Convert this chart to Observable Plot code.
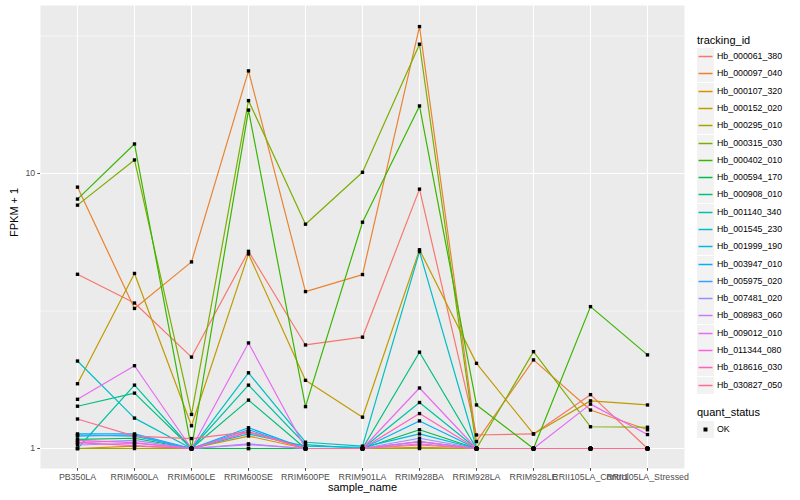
<!DOCTYPE html>
<html>
<head>
<meta charset="utf-8">
<script src="https://cdn.jsdelivr.net/npm/d3@7"></script>
<script src="https://cdn.jsdelivr.net/npm/@observablehq/plot@0.6"></script>
<style>
  body { margin: 0; background: white; font-family: "Liberation Sans", Arial, sans-serif; }
  #wrap { position: relative; width: 800px; height: 500px; }
  #chart { position: absolute; left: 0; top: 0; }
  #legend { position: absolute; left: 697px; top: 0; width: 103px; height: 500px; }
  .ltitle { position: absolute; left: 0; font-size: 11px; color: #000; line-height: 11px; white-space: nowrap; }
  .lrow { position: absolute; left: 0; height: 17px; width: 103px; }
  .lkey { position: absolute; left: 0; top: 0; width: 17px; height: 17px; background: #F2F2F2; }
  .lkey svg { display: block; }
  .llab { position: absolute; left: 20px; top: 0; font-size: 8.8px; line-height: 17px; color: #000; white-space: nowrap; }
</style>
</head>
<body>
<div id="wrap"><div id="chart"></div><div id="legend"></div></div>
<script>
const samples = ["PB350LA", "RRIM600LA", "RRIM600LE", "RRIM600SE", "RRIM600PE", "RRIM901LA",
  "RRIM928BA", "RRIM928LA", "RRIM928LE", "RRII105LA_Control", "RRII105LA_Stressed"];

const trackingIds = ["Hb_000061_380", "Hb_000097_040", "Hb_000107_320", "Hb_000152_020", "Hb_000295_010",
  "Hb_000315_030", "Hb_000402_010", "Hb_000594_170", "Hb_000908_010", "Hb_001140_340",
  "Hb_001545_230", "Hb_001999_190", "Hb_003947_010", "Hb_005975_020", "Hb_007481_020",
  "Hb_008983_060", "Hb_009012_010", "Hb_011344_080", "Hb_018616_030", "Hb_030827_050"];

const colors = ["#F8766D", "#EA8331", "#D89000", "#C09B00", "#A3A500", "#7CAE00", "#39B600", "#00BB4E",
  "#00BF7D", "#00C1A3", "#00BFC4", "#00BAE0", "#00B0F6", "#35A2FF", "#9590FF", "#C77CFF",
  "#E76BF3", "#FA62DB", "#FF62BC", "#FF6C91"];

// FPKM + 1 per sample, in the order of `samples`
const v000061_380 = [4.30, 3.38, 2.15, 5.21, 2.38, 2.54, 8.77, 1.12, 1.13, 1.57, 1.00];
const v000097_040 = [8.92, 3.23, 4.77, 23.6, 3.72, 4.29, 34.2, 1.06, 2.10, 1.38, 1.17];
const v000107_320 = [1.00, 1.02, 1.00, 1.11, 1.00, 1.00, 1.01, 1.00, 1.00, 1.00, 1.00];
const v000152_020 = [1.72, 4.33, 1.21, 5.10, 1.77, 1.30, 5.28, 2.04, 1.13, 1.49, 1.44];
const v000295_010 = [1.00, 1.00, 1.00, 1.00, 1.00, 1.00, 1.00, 1.00, 1.00, 1.00, 1.00];
const v000315_030 = [7.67, 11.2, 1.33, 18.4, 6.54, 10.1, 29.5, 1.00, 2.25, 1.20, 1.195];
const v000402_010 = [8.07, 12.8, 1.00, 17.0, 1.42, 6.65, 17.6, 1.44, 1.00, 3.28, 2.19];
const v000594_170 = [1.08, 1.09, 1.00, 1.00, 1.00, 1.00, 1.17, 1.00, 1.00, 1.00, 1.00];
const v000908_010 = [1.425, 1.59, 1.00, 1.50, 1.00, 1.00, 2.24, 1.00, 1.00, 1.00, 1.00];
const v001140_340 = [1.00, 1.70, 1.00, 1.70, 1.034, 1.00, 1.47, 1.00, 1.00, 1.00, 1.00];
const v001545_230 = [2.08, 1.29, 1.00, 1.885, 1.054, 1.02, 5.20, 1.00, 1.00, 1.00, 1.00];
const v001999_190 = [1.12, 1.11, 1.00, 1.13, 1.02, 1.01, 1.13, 1.00, 1.00, 1.00, 1.00];
const v003947_010 = [1.13, 1.13, 1.00, 1.19, 1.00, 1.00, 1.26, 1.00, 1.00, 1.00, 1.00];
const v005975_020 = [1.11, 1.12, 1.00, 1.17, 1.00, 1.00, 1.06, 1.00, 1.00, 1.00, 1.00];
const v007481_020 = [1.05, 1.07, 1.00, 1.034, 1.00, 1.00, 1.09, 1.00, 1.00, 1.00, 1.00];
const v008983_060 = [1.03, 1.045, 1.00, 1.04, 1.00, 1.00, 1.04, 1.00, 1.00, 1.00, 1.00];
const v009012_010 = [1.51, 2.00, 1.00, 2.42, 1.00, 1.00, 1.66, 1.00, 1.00, 1.45, 1.124];
const v011344_080 = [1.07, 1.05, 1.00, 1.15, 1.00, 1.00, 1.06, 1.00, 1.00, 1.00, 1.00];
const v018616_030 = [1.05, 1.025, 1.00, 1.15, 1.00, 1.00, 1.34, 1.00, 1.00, 1.00, 1.00];
const v030827_050 = [1.28, 1.11, 1.087, 1.15, 1.00, 1.00, 1.03, 1.00, 1.00, 1.00, 1.00];

const seriesValues = [v000061_380, v000097_040, v000107_320, v000152_020, v000295_010,
  v000315_030, v000402_010, v000594_170, v000908_010, v001140_340, v001545_230, v001999_190,
  v003947_010, v005975_020, v007481_020, v008983_060, v009012_010, v011344_080, v018616_030, v030827_050];

const majorTicks = [1, 10];
const minorTicks = [Math.sqrt(10), Math.sqrt(1000)];
const statusLevels = ["OK"];

const rows = [];
trackingIds.forEach((id, i) => {
  seriesValues[i].forEach((v, j) => rows.push({id, sample: samples[j], value: v, status: "OK"}));
});

const chart = Plot.plot({
  width: 690,
  height: 500,
  marginLeft: 40,
  marginRight: 6,
  marginTop: 5,
  marginBottom: 32,
  style: {fontFamily: "'Liberation Sans', Arial, sans-serif", fontSize: "8.8px", background: "white", overflow: "visible"},
  x: {type: "point", domain: samples, padding: 0.6},
  y: {type: "log", domain: [0.846, 40.8]},
  color: {domain: trackingIds, range: colors},
  marks: [
    Plot.frame({fill: "#EBEBEB", stroke: "none"}),
    Plot.ruleY(minorTicks, {stroke: "white", strokeWidth: 0.55}),
    Plot.ruleY(majorTicks, {stroke: "white", strokeWidth: 1.1}),
    Plot.ruleX(samples, {stroke: "white", strokeWidth: 1.1}),
    Plot.lineY(rows, {x: "sample", y: "value", z: "id", stroke: "id", strokeWidth: 1.2}),
    Plot.dot(rows, {x: "sample", y: "value", symbol: "square", r: 1.9, fill: "black", stroke: "none"}),
    Plot.axisX({tickSize: 2.75, tickPadding: 2.5, color: "#4D4D4D", label: null, fontSize: 8.8}),
    Plot.axisY({ticks: majorTicks, tickFormat: d => String(d), tickSize: 2.75, tickPadding: 2.5, color: "#4D4D4D", label: null, fontSize: 8.8}),
    Plot.text(["sample_name"], {frameAnchor: "bottom", dy: 22, fontSize: 11, fill: "black"}),
    Plot.text(["FPKM + 1"], {frameAnchor: "left", rotate: -90, dx: -26, fontSize: 11, fill: "black"})
  ]
});
document.getElementById("chart").appendChild(chart);

// Legend
const legend = d3.select("#legend");
legend.append("div").attr("class", "ltitle").style("top", "34.5px").text("tracking_id");
trackingIds.forEach((id, i) => {
  const row = legend.append("div").attr("class", "lrow").style("top", Math.round(48.2 + i * 17.28) + "px");
  const key = row.append("div").attr("class", "lkey");
  key.append("svg").attr("width", 17).attr("height", 17)
    .append("line").attr("x1", 1.5).attr("x2", 15.5).attr("y1", 8.5).attr("y2", 8.5)
    .attr("stroke", colors[i]).attr("stroke-width", 1.5);
  row.append("div").attr("class", "llab").text(id);
});
legend.append("div").attr("class", "ltitle").style("top", "407px").text("quant_status");
statusLevels.forEach((s, i) => {
  const row = legend.append("div").attr("class", "lrow").style("top", Math.round(420.8 + i * 17.28) + "px");
  const key = row.append("div").attr("class", "lkey");
  key.append("svg").attr("width", 17).attr("height", 17)
    .append("rect").attr("x", 6.5).attr("y", 6.5).attr("width", 4).attr("height", 4).attr("fill", "black");
  row.append("div").attr("class", "llab").text(s);
});
</script>
</body>
</html>
